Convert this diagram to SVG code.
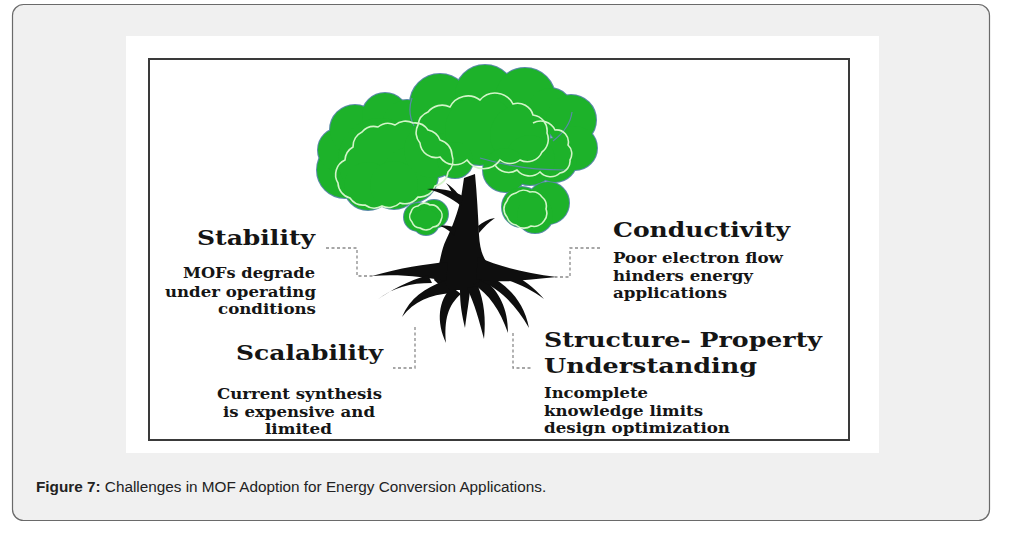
<svg xmlns="http://www.w3.org/2000/svg" width="1014" height="534" viewBox="0 0 1014 534">
<style>
.h{font-family:"DejaVu Serif","Liberation Serif",serif;font-weight:bold;font-size:21px;fill:#151515}
.b{font-family:"DejaVu Serif","Liberation Serif",serif;font-weight:bold;font-size:14px;fill:#151515}
.cap{font-family:"Liberation Sans",Arial,sans-serif;font-size:15.3px;fill:#222}
.dash{fill:none;stroke:#8a8a8a;stroke-width:1.3;stroke-dasharray:3 2.5}
.leaf{fill:#1db22a}
.leafo{fill:#1db22a;stroke:#5a8aa8;stroke-width:2}
.inner{fill:none;stroke:#d2f5c8;stroke-width:1.6}
.inner2{fill:none;stroke:#5a8aa8;stroke-width:1.2}
.wood{fill:#0e0e0e}
</style>
<defs>
<g id="crownShapes">
<circle cx="345" cy="170" r="28"/><circle cx="340" cy="150" r="22"/><circle cx="355" cy="130" r="25"/>
<circle cx="385" cy="116" r="23"/><circle cx="407" cy="125" r="25"/><circle cx="380" cy="160" r="42"/>
<circle cx="410" cy="175" r="28"/><circle cx="432" cy="150" r="28"/>
<circle cx="368" cy="186" r="24"/><circle cx="394" cy="185" r="24"/>
<circle cx="440" cy="104" r="30"/><circle cx="485" cy="95" r="30"/><circle cx="525" cy="98" r="30"/>
<circle cx="550" cy="110" r="22"/><circle cx="480" cy="130" r="35"/><circle cx="520" cy="135" r="30"/>
<circle cx="571" cy="120" r="25"/><circle cx="575" cy="148" r="22"/><circle cx="555" cy="160" r="22"/>
<circle cx="530" cy="160" r="25"/><circle cx="505" cy="170" r="22"/><circle cx="455" cy="160" r="18"/>
<circle cx="522" cy="207" r="20"/><circle cx="548" cy="203" r="21"/><circle cx="535" cy="215" r="18"/>
<circle cx="418" cy="217" r="14"/><circle cx="434" cy="214" r="14"/><circle cx="426" cy="222" r="13"/>
</g>
</defs>

<g id="panel">
<rect x="12.5" y="4.5" width="977" height="516" rx="11" fill="#f0f0f0" stroke="#6a6a6a" stroke-width="1.2"/>
<rect x="126" y="36" width="753" height="417" fill="#ffffff"/>
<rect x="149" y="59" width="700" height="381" fill="none" stroke="#3a3a3a" stroke-width="2"/>
</g>

<g id="tree">
<g id="crown">
<use href="#crownShapes" class="leafo"/>
<use href="#crownShapes" class="leaf"/>
<path class="inner2" d="M412 98 Q407 112 414 126 M572 112 Q570 128 553 141 M480 158 Q520 170 565 170"/>
<path class="inner" d="M338 183 A16 16 0 0 1 345 160 A16 16 0 0 1 353 147 A16 16 0 0 1 362 132 A16 16 0 0 1 378 127 A16 16 0 0 1 395 125 A16 16 0 0 1 413 123 A16 16 0 0 1 428 130 A16 16 0 0 1 440 140 A16 16 0 0 1 452 155 A16 16 0 0 1 448 172 A16 16 0 0 1 435 186 A16 16 0 0 1 418 197 A16 16 0 0 1 400 203 A16 16 0 0 1 382 206 A16 16 0 0 1 365 205 A16 16 0 0 1 350 198 A16 16 0 0 1 338 183 Z"/>
<path class="inner" d="M420 143 A16 16 0 0 1 418 125 A16 16 0 0 1 428 112 A18 18 0 0 1 450 107 A20 20 0 0 1 480 100 A20 20 0 0 1 513 104 A16 16 0 0 1 533 115 A16 16 0 0 1 547 133 A16 16 0 0 1 542 152 A16 16 0 0 1 520 160 A16 16 0 0 1 500 160 A20 20 0 0 1 467 160 A18 18 0 0 1 440 157 A16 16 0 0 1 420 143 Z"/>
<path class="inner" d="M533 123 A16 16 0 0 1 555 130 A12 12 0 0 1 568 145 A12 12 0 0 1 570 160 A12 12 0 0 1 560 173 A14 14 0 0 1 540 172 A16 16 0 0 1 517 170 A16 16 0 0 1 495 165"/>
<path class="inner" d="M507 201 A12 12 0 0 1 516 193 A12 12 0 0 1 530 192 A12 12 0 0 1 542 197 A12 12 0 0 1 546 209 A12 12 0 0 1 544 221 A12 12 0 0 1 531 226 A12 12 0 0 1 516 225 A12 12 0 0 1 507 217 A12 12 0 0 1 507 201 Z"/>
<path class="inner" d="M411 212 A8 8 0 0 1 418 206 A9 9 0 0 1 430 205 A9 9 0 0 1 439 209 A9 9 0 0 1 441 220 A9 9 0 0 1 433 227 A10 10 0 0 1 420 228 A9 9 0 0 1 412 222 A8 8 0 0 1 411 212 Z"/>
</g>
<g id="trunk" class="wood">
<path d="M464 178 L475 174 C477 195 478 215 479 235 C480 252 484 262 494 270 L476 290 L445 290 L434 280 C440 268 440 252 446 240 C452 228 458 212 461 198 Z"/>
<path d="M463 196 C452 190 440 188 427 189 C440 192 452 198 461 206 Z"/>
<path d="M458 194 C455 190 451 186 446 183 C450 188 452 192 454 198 Z"/>
<path d="M456 228 C451 226 446 225 440 226 C446 228 450 231 454 236 Z"/>
<path d="M478 226 C483 222 488 219 495 218 C489 222 484 227 479 233 Z"/>
<path d="M448 262 C425 264 400 268 372 276 C400 274 425 277 446 281 Z"/>
<path d="M428 275 C408 281 391 290 377 300 C394 287 410 283 432 283 Z"/>
<path d="M444 281 C425 288 410 298 402 317 C414 301 430 295 451 293 Z"/>
<path d="M452 287 C438 300 436 322 446 343 C444 320 448 305 461 294 Z"/>
<path d="M460 290 C460 305 462 315 465 328 C467 312 469 302 470 290 Z"/>
<path d="M467 288 C475 305 479 320 484 339 C486 318 484 302 478 286 Z"/>
<path d="M473 284 C489 294 500 310 508 333 C508 308 499 292 485 280 Z"/>
<path d="M479 280 C500 289 516 305 529 328 C524 302 509 287 489 275 Z"/>
<path d="M484 273 C507 279 527 286 544 299 C530 282 512 272 490 265 Z"/>
<path d="M478 257 C500 267 525 273 557 277 C525 280 500 284 476 279 Z"/>
</g>
</g>

<g id="connectors">
<path class="dash" d="M326 248 H357 V276 H373"/>
<path class="dash" d="M600 248 H570 V277 H555"/>
<path class="dash" d="M415 327 V368 H393"/>
<path class="dash" d="M513 333 V368 H533"/>
</g>

<g id="stability">
<text class="h" x="197" y="245" textLength="118" lengthAdjust="spacingAndGlyphs">Stability</text>
<text class="b" x="183" y="278" textLength="132" lengthAdjust="spacingAndGlyphs">MOFs degrade</text>
<text class="b" x="165" y="297" textLength="151" lengthAdjust="spacingAndGlyphs">under operating</text>
<text class="b" x="218" y="314" textLength="98" lengthAdjust="spacingAndGlyphs">conditions</text>
</g>

<g id="scalability">
<text class="h" x="236" y="360" textLength="147" lengthAdjust="spacingAndGlyphs">Scalability</text>
<text class="b" x="217" y="399" textLength="165" lengthAdjust="spacingAndGlyphs">Current synthesis</text>
<text class="b" x="223" y="417" textLength="152" lengthAdjust="spacingAndGlyphs">is expensive and</text>
<text class="b" x="265" y="434" textLength="67" lengthAdjust="spacingAndGlyphs">limited</text>
</g>

<g id="conductivity">
<text class="h" x="613" y="237" textLength="177" lengthAdjust="spacingAndGlyphs">Conductivity</text>
<text class="b" x="613" y="263" textLength="170" lengthAdjust="spacingAndGlyphs">Poor electron flow</text>
<text class="b" x="613" y="281" textLength="140" lengthAdjust="spacingAndGlyphs">hinders energy</text>
<text class="b" x="613" y="298" textLength="114" lengthAdjust="spacingAndGlyphs">applications</text>
</g>

<g id="structure">
<text class="h" x="544" y="347" textLength="278" lengthAdjust="spacingAndGlyphs">Structure- Property</text>
<text class="h" x="544" y="373" textLength="213" lengthAdjust="spacingAndGlyphs">Understanding</text>
<text class="b" x="544" y="398" textLength="104" lengthAdjust="spacingAndGlyphs">Incomplete</text>
<text class="b" x="544" y="416" textLength="159" lengthAdjust="spacingAndGlyphs">knowledge limits</text>
<text class="b" x="544" y="433" textLength="186" lengthAdjust="spacingAndGlyphs">design optimization</text>
</g>

<g id="caption">
<text class="cap" x="36" y="492"><tspan font-weight="bold">Figure 7:</tspan> Challenges in MOF Adoption for Energy Conversion Applications.</text>
</g>
</svg>
